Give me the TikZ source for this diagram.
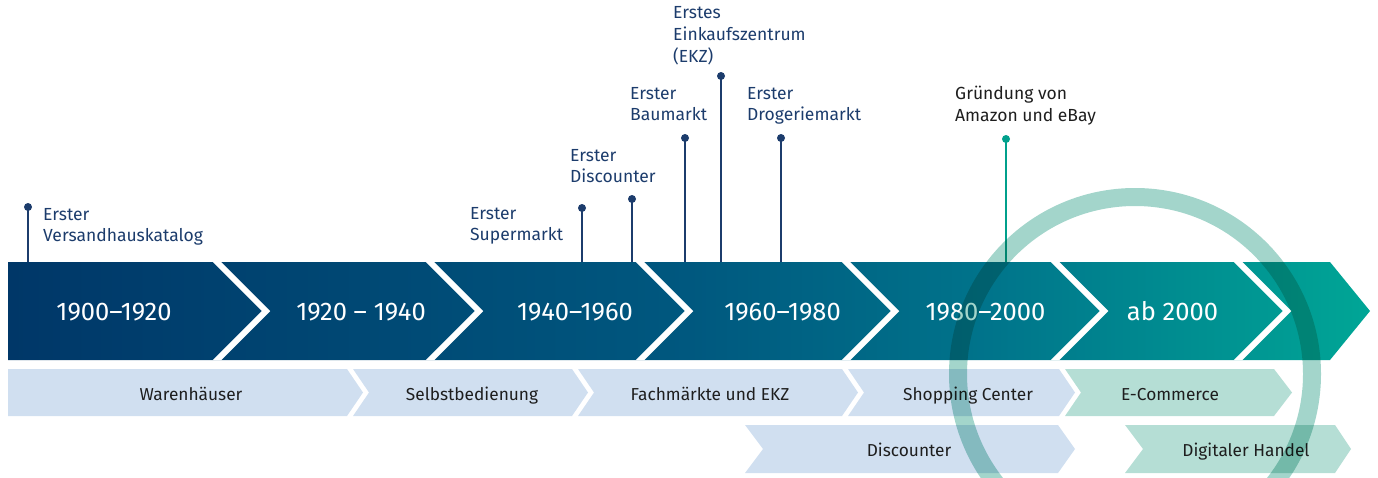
\documentclass[tikz,border=0pt]{standalone}
\usepackage{fontspec}
\setmainfont{Fira Sans}
\definecolor{navy}{RGB}{28,60,108}
\definecolor{bandA}{RGB}{0,55,104}
\definecolor{bandB}{RGB}{0,88,127}
\definecolor{bandC}{RGB}{0,116,139}
\definecolor{bandD}{RGB}{0,166,150}
\definecolor{boxblue}{RGB}{208,223,240}
\definecolor{boxteal}{RGB}{181,222,213}
\definecolor{tealstem}{RGB}{0,160,140}
\definecolor{ringc}{RGB}{163,213,203}
\definecolor{txtdark}{RGB}{30,30,30}
\pgfdeclarehorizontalshading{bandshade}{100bp}{color(0bp)=(bandA); color(25bp)=(bandA); color(50bp)=(bandB); color(61bp)=(bandC); color(75bp)=(bandD); color(100bp)=(bandD)}
\tikzset{
  yearlbl/.style={text=white, font=\fontsize{25.5}{30}\selectfont, anchor=base, inner sep=0},
  boxlbl/.style={text=txtdark, font=\fontsize{17.3}{21}\selectfont, anchor=base, inner sep=0},
  evlbl/.style={text=navy, font=\fontsize{17.5}{21.7}\selectfont, anchor=north west, align=left, inner sep=0},
  dotnode/.style={circle, fill=navy, inner sep=0, minimum size=8},
  stemline/.style={draw=navy, line width=2.3},
}
\begin{document}
\begin{tikzpicture}[x=1pt,y=-1pt]
\path[use as bounding box] (0,0) rectangle (1378,477);
\clip (0,0) rectangle (1378,477);
% band
\path[shading=bandshade] (8,262) -- (1330,262) -- (1370,311) -- (1330,360) -- (8,360) -- cycle;
\begin{scope}
\clip (8,262) -- (1330,262) -- (1370,311) -- (1330,360) -- (8,360) -- cycle;
\foreach \t in {266,479,689,895,1104,1287}
  \draw[white, line width=6] (\t-59,252) -- (\t,311) -- (\t-59,370);
\end{scope}
% year labels
\node[yearlbl] (y1) at (114,320) {1900–1920};
\node[yearlbl] (y2) at (361,320) {1920 – 1940};
\node[yearlbl] (y3) at (575,320) {1940–1960};
\node[yearlbl] (y4) at (782.5,320) {1960–1980};
\node[yearlbl] (y5) at (985.5,320) {1980–2000};
\node[yearlbl] (y6) at (1172.5,320) {ab 2000};
% row 1 boxes
\fill[boxblue] (8,369) -- (347,369) -- (363,392.5) -- (347,416) -- (8,416) -- cycle;
\fill[boxblue] (353,369) -- (572,369) -- (588,392.5) -- (572,416) -- (353,416) -- (369,392.5) -- cycle;
\fill[boxblue] (578,369) -- (842,369) -- (858,392.5) -- (842,416) -- (578,416) -- (594,392.5) -- cycle;
\fill[boxblue] (848,369) -- (1059,369) -- (1075,392.5) -- (1059,416) -- (848,416) -- (864,392.5) -- cycle;
\fill[boxteal] (1065,369) -- (1274,369) -- (1292,392.5) -- (1274,416) -- (1065,416) -- (1081,392.5) -- cycle;
% row 2 boxes
\fill[boxblue] (745,425) -- (1058,425) -- (1075,449) -- (1058,473) -- (745,473) -- (763,449) -- cycle;
\fill[boxteal] (1125,425) -- (1335,425) -- (1351,449) -- (1335,473) -- (1125,473) -- (1143,449) -- cycle;
% box labels
\node[boxlbl] (b1) at (191,400.5) {Warenhäuser};
\node[boxlbl] (b2) at (472,400.5) {Selbstbedienung};
\node[boxlbl] (b3) at (710,400.5) {Fachmärkte und EKZ};
\node[boxlbl] (b4) at (968,400.5) {Shopping Center};
\node[boxlbl] (b5) at (1170,400.5) {E-Commerce};
\node[boxlbl] (b6) at (909,456.5) {Discounter};
\node[boxlbl] (b7) at (1246,456.5) {Digitaler Handel};
% event stems
\node[dotnode] (d1) at (28,207) {};
\node[dotnode] (d2) at (582,208) {};
\node[dotnode] (d3) at (632,199) {};
\node[dotnode] (d4) at (685,138) {};
\node[dotnode] (d5) at (721,76) {};
\node[dotnode] (d6) at (781,138) {};
\node[dotnode, fill=tealstem] (d7) at (1006,139) {};
\coordinate (e1) at (28,262);
\coordinate (e2) at (582,262);
\coordinate (e3) at (632,262);
\coordinate (e4) at (685,262);
\coordinate (e5) at (721,262);
\coordinate (e6) at (781,262);
\coordinate (e7) at (1006,262);
\foreach \i in {1,...,6} \draw[stemline] (d\i.center) -- (e\i);
\draw[stemline, draw=tealstem] (d7.center) -- (e7);
% event labels
\node[evlbl] (l1) at (43,208) {Erster\\Versandhauskatalog};
\node[evlbl] (l2) at (470,207) {Erster\\Supermarkt};
\node[evlbl] (l3) at (570,149) {Erster\\Discounter};
\node[evlbl] (l4) at (630,87) {Erster\\Baumarkt};
\node[evlbl] (l5) at (673,6.5) {Erstes\\Einkaufszentrum\\(EKZ)};
\node[evlbl] (l6) at (747,87) {Erster\\Drogeriemarkt};
\node[evlbl, text=txtdark] (l7) at (955,86) {Gründung von\\Amazon und eBay};
% ring
\draw[ringc, line width=18, blend mode=multiply] (1135,374) circle[radius=177pt];
\end{tikzpicture}
\end{document}
